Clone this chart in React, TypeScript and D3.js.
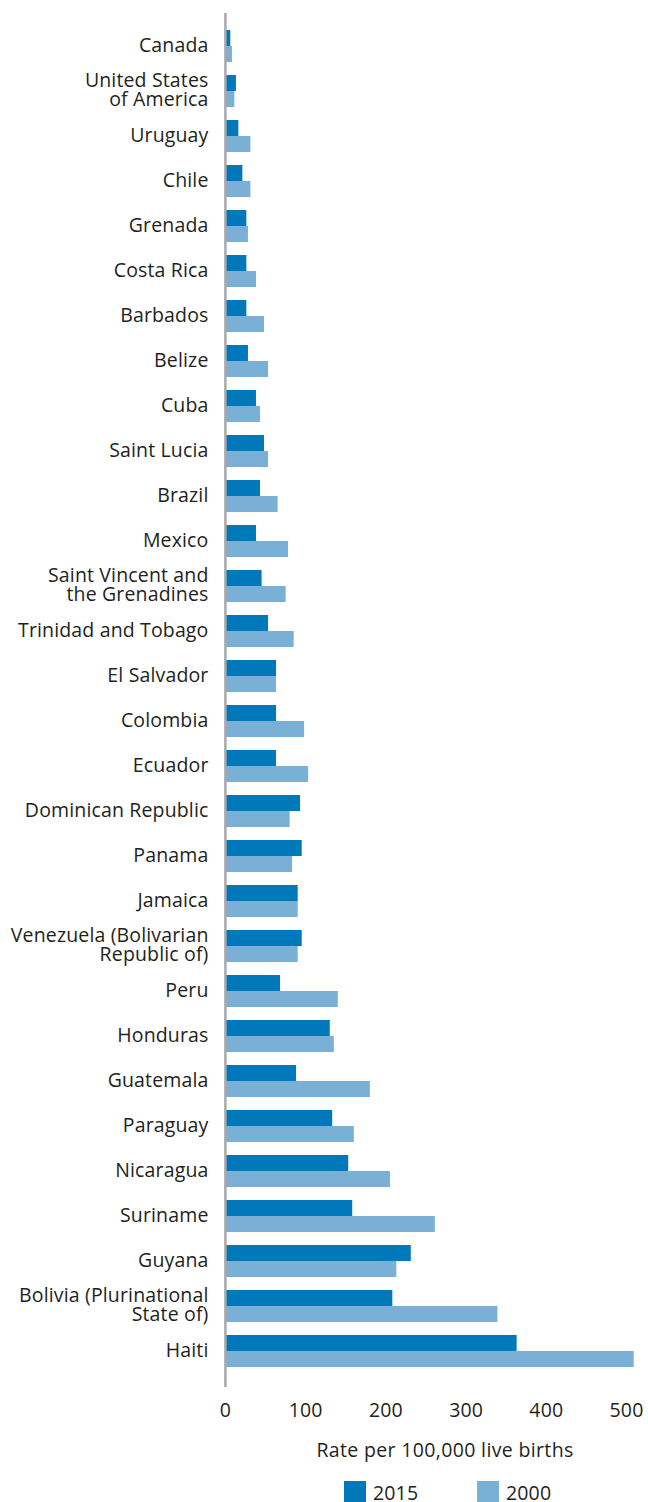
import React from "react";
import * as d3 from "d3";

// countries, top to bottom
const countries = [
  "Canada",
  "United States\nof America",
  "Uruguay",
  "Chile",
  "Grenada",
  "Costa Rica",
  "Barbados",
  "Belize",
  "Cuba",
  "Saint Lucia",
  "Brazil",
  "Mexico",
  "Saint Vincent and\nthe Grenadines",
  "Trinidad and Tobago",
  "El Salvador",
  "Colombia",
  "Ecuador",
  "Dominican Republic",
  "Panama",
  "Jamaica",
  "Venezuela (Bolivarian\nRepublic of)",
  "Peru",
  "Honduras",
  "Guatemala",
  "Paraguay",
  "Nicaragua",
  "Suriname",
  "Guyana",
  "Bolivia (Plurinational\nState of)",
  "Haiti",
];

const values2015 = [
  6, 13, 16, 21, 26, 26, 26, 28, 38, 48, 43, 38, 45, 53, 63, 63, 63, 93, 95,
  90, 95, 68, 130, 88, 133, 153, 158, 231, 208, 363,
];

const values2000 = [
  8, 11, 31, 31, 28, 38, 48, 53, 43, 53, 65, 78, 75, 85, 63, 98, 103, 80, 83,
  90, 90, 140, 135, 180, 160, 205, 261, 213, 339, 509,
];

const seriesNames = ["2015", "2000"];
const xTicks = [0, 100, 200, 300, 400, 500];

const colors = ["#0078b9", "#7aafd6"];
const font = "'Open Sans', sans-serif";
const textColor = "#231f20";
const fs = 19.5;

const App: React.FC = () => {
  const width = 648;
  const height = 1502;

  const x = d3.scaleLinear().domain([0, 500]).range([225.5, 626.5]);
  const y = d3
    .scaleBand<string>()
    .domain(countries)
    .range([23.5, 1373.5])
    .paddingInner(13 / 45)
    .paddingOuter(13 / 90);
  const ySub = d3
    .scaleBand<string>()
    .domain(seriesNames)
    .range([0, y.bandwidth()]);

  const rows = countries.map((c, i) => ({
    country: c,
    values: [values2015[i], values2000[i]],
  }));

  return (
    <svg
      width={width}
      height={height}
      style={{ position: "absolute", left: 0, top: 0, background: "#fff" }}
      fontFamily={font}
      letterSpacing={0.15}
    >
      {/* bars */}
      {rows.map((r) => (
        <g key={r.country} transform={`translate(0,${y(r.country)})`}>
          {r.values.map((v, j) => (
            <rect
              key={j}
              x={x(0)}
              y={ySub(seriesNames[j])}
              width={x(v) - x(0)}
              height={ySub.bandwidth()}
              fill={colors[j]}
            />
          ))}
        </g>
      ))}

      {/* y axis line */}
      <line x1={225.4} x2={225.4} y1={13} y2={1387} stroke="#a7a9ac" strokeWidth={2.5} />

      {/* category labels */}
      {rows.map((r) => {
        const cy = y(r.country)! + y.bandwidth() / 2;
        const lines = r.country.split("\n");
        return (
          <text
            key={r.country}
            x={208.5}
            y={cy + 5.5 - ((lines.length - 1) * 19) / 2}
            textAnchor="end"
            fontSize={fs}
            fill={textColor}
          >
            {lines.map((l, k) => (
              <tspan key={k} x={208.5} dy={k === 0 ? 0 : 19}>
                {l}
              </tspan>
            ))}
          </text>
        );
      })}

      {/* x tick labels */}
      {xTicks.map((t) => (
        <text
          key={t}
          x={x(t)}
          y={1417}
          textAnchor="middle"
          fontSize={fs}
          fill={textColor}
        >
          {t}
        </text>
      ))}

      <text
        x={445}
        y={1457}
        textAnchor="middle"
        fontSize={fs}
        letterSpacing={0.35}
        fill={textColor}
      >
        Rate per 100,000 live births
      </text>

      {/* legend */}
      {seriesNames.map((s, j) => {
        const lx = [344, 477][j];
        return (
          <g key={s}>
            <rect x={lx} y={1481} width={22} height={22} fill={colors[j]} />
            <text x={lx + 29} y={1499.5} fontSize={fs} fill={textColor}>
              {s}
            </text>
          </g>
        );
      })}
    </svg>
  );
};

export default App;
